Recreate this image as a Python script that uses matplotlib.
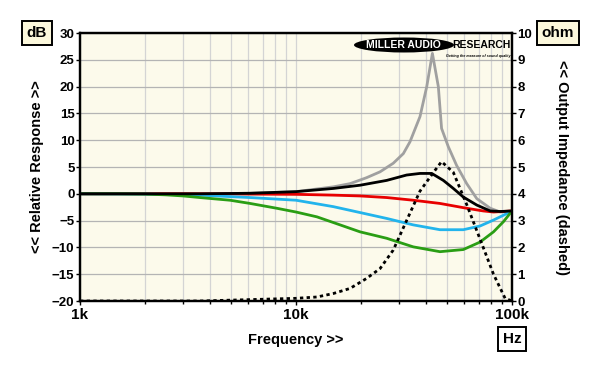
import matplotlib.pyplot as plt
import numpy as np
from matplotlib.patches import Ellipse

plt.rcParams['font.family'] = ['Liberation Sans', 'DejaVu Sans']
plt.rcParams['font.weight'] = 'bold'

# ---------------------------------------------------------------- data
f_gray = [1000, 3590, 6130, 10000, 14900, 17800, 21200, 24500, 28200, 31400,
          33700, 37500, 40300, 42800, 45600, 47200, 50700, 55400, 61700, 68700,
          79300, 88300, 100000]
db_gray = [0, 0, 0.1, 0.4, 1.3, 1.9, 3.0, 4.1, 5.7, 7.5,
           9.7, 14.4, 20.0, 26.2, 20.0, 12.2, 8.8, 5.3, 1.9, -0.9,
           -2.7, -3.4, -3.2]

f_black = [1000, 3590, 6130, 10000, 14900, 19800, 26300, 32500, 37500, 42500,
           48100, 53500, 59500, 68700, 79300, 88300, 100000]
db_black = [0, 0, 0.1, 0.4, 1.0, 1.6, 2.5, 3.5, 3.8, 3.8,
            2.5, 1.0, -0.6, -2.1, -3.2, -3.3, -3.2]

f_red = [1000, 3590, 10000, 14900, 19800, 26300, 34900, 46400, 61700, 73600,
         82100, 100000]
db_red = [0, 0, -0.1, -0.25, -0.4, -0.7, -1.2, -1.8, -2.7, -3.2,
          -3.4, -3.2]

f_cyan = [1000, 2000, 3590, 6130, 10000, 14900, 19800, 26300, 34900, 46400,
          59500, 71200, 82100, 91300, 100000]
db_cyan = [0, -0.05, -0.25, -0.7, -1.2, -2.4, -3.5, -4.6, -5.8, -6.7,
           -6.7, -6.0, -4.9, -4.0, -3.2]

f_green = [1000, 1500, 2000, 2500, 3000, 3590, 4950, 6130, 8150, 10000,
           12500, 16000, 19800, 26300, 34900, 46400, 59500, 71200, 82100,
           91300, 100000]
db_green = [0, 0, -0.05, -0.2, -0.4, -0.7, -1.2, -1.8, -2.7, -3.4,
            -4.3, -5.8, -7.1, -8.3, -9.9, -10.8, -10.4, -9.0, -7.1,
            -5.2, -3.2]

f_imp = [1000, 3590, 10000, 12500, 14900, 17800, 21200, 24500, 28200, 32500,
         37500, 43300, 47200, 53500, 61700, 71200, 82100, 92900, 100000]
ohm_imp = [0, 0, 0.1, 0.15, 0.28, 0.47, 0.84, 1.21, 1.9, 3.0,
           4.1, 4.8, 5.2, 4.8, 3.6, 2.3, 1.0, 0.1, 0.0]

# ---------------------------------------------------------------- figure
fig = plt.figure(figsize=(6, 3.68), dpi=100)
ax = fig.add_axes([80 / 600, 1 - 301 / 368, 432 / 600, 268 / 368])
ax.set_facecolor('#FCFAEB')

ax.set_xscale('log')
ax.set_xlim(1000, 100000)
ax.set_ylim(-20, 30)

ax.plot(f_gray, db_gray, color='#A0A0A0', lw=2.0, zorder=3)
ax.plot(f_red, db_red, color='#E80000', lw=2.0, zorder=4)
ax.plot(f_cyan, db_cyan, color='#22B4EC', lw=2.0, zorder=4)
ax.plot(f_green, db_green, color='#2A9E14', lw=2.0, zorder=4)
ax.plot(f_black, db_black, color='black', lw=2.0, zorder=5)

ax2 = ax.twinx()
ax2.set_ylim(0, 10)
ax2.plot(f_imp, ohm_imp, color='black', lw=2.0, linestyle=(0, (1.2, 1.2)), zorder=6)

# grid
ax.set_yticks(np.arange(-20, 31, 5))
ax.set_xticks([1000, 10000, 100000])
ax.set_xticklabels(['1k', '10k', '100k'], fontsize=11, fontweight='bold')
ax.xaxis.set_minor_locator(plt.matplotlib.ticker.LogLocator(base=10, subs=np.arange(2, 10)))
ax.xaxis.set_minor_formatter(plt.NullFormatter())
ax.grid(True, which='major', axis='y', color='#B4B4B4', lw=0.9)
ax.grid(True, which='both', axis='x', color='#D4D4D4', lw=0.9)
ax.set_axisbelow(True)

for a in (ax, ax2):
    for s in a.spines.values():
        s.set_linewidth(1.6)
ax.tick_params(axis='y', labelsize=9.5, length=3, width=1, pad=1)
ax.tick_params(axis='x', which='major', length=3, width=1, pad=2)
ax.tick_params(axis='x', which='minor', length=2, width=1)
ax2.set_yticks(np.arange(0, 11, 1))
ax2.tick_params(axis='y', labelsize=9.5, length=3, width=1, pad=1)
for lab in ax.get_yticklabels() + ax2.get_yticklabels():
    lab.set_fontweight('bold')

ax.set_xlabel('Frequency >>', fontsize=10.5, fontweight='bold', labelpad=8)
ax.set_ylabel('<< Relative Response >>', fontsize=10.5, fontweight='bold', labelpad=6)
ax2.set_ylabel('<< Output Impedance (dashed)', fontsize=10.5, fontweight='bold',
               rotation=-90, labelpad=16, va='bottom')

box = dict(boxstyle='square,pad=0.3', facecolor='#FCF8DC', edgecolor='black', lw=1.4)
fig.text(37 / 600, 1 - 33 / 368, 'dB', ha='center', va='center', fontsize=11, bbox=box)
fig.text(558 / 600, 1 - 33 / 368, 'ohm', ha='center', va='center', fontsize=11, bbox=box)
fig.text(512 / 600, 1 - 339 / 368, 'Hz', ha='center', va='center', fontsize=11,
         bbox=dict(boxstyle='square,pad=0.3', facecolor='white', edgecolor='black', lw=1.4))

# logo
logo = Ellipse((404 / 600, 1 - 45 / 368), 100 / 600, 15 / 368, transform=fig.transFigure,
               facecolor='black', edgecolor='none', zorder=10)
fig.patches.append(logo)
fig.text(403 / 600, 1 - 45 / 368, 'MILLER AUDIO', color='white', ha='center', va='center',
         fontsize=7.5, fontweight='heavy', zorder=11)
fig.text(481 / 600, 1 - 45 / 368, 'RESEARCH', color='black', ha='center', va='center',
         fontsize=7.5, fontweight='heavy', zorder=11)
fig.text(478 / 600, 1 - 56 / 368, 'Getting the measure of sound quality', color='black',
         ha='center', va='center', fontsize=2.6, style='italic', zorder=11)

fig.savefig('out.png', dpi=100, facecolor='white')
